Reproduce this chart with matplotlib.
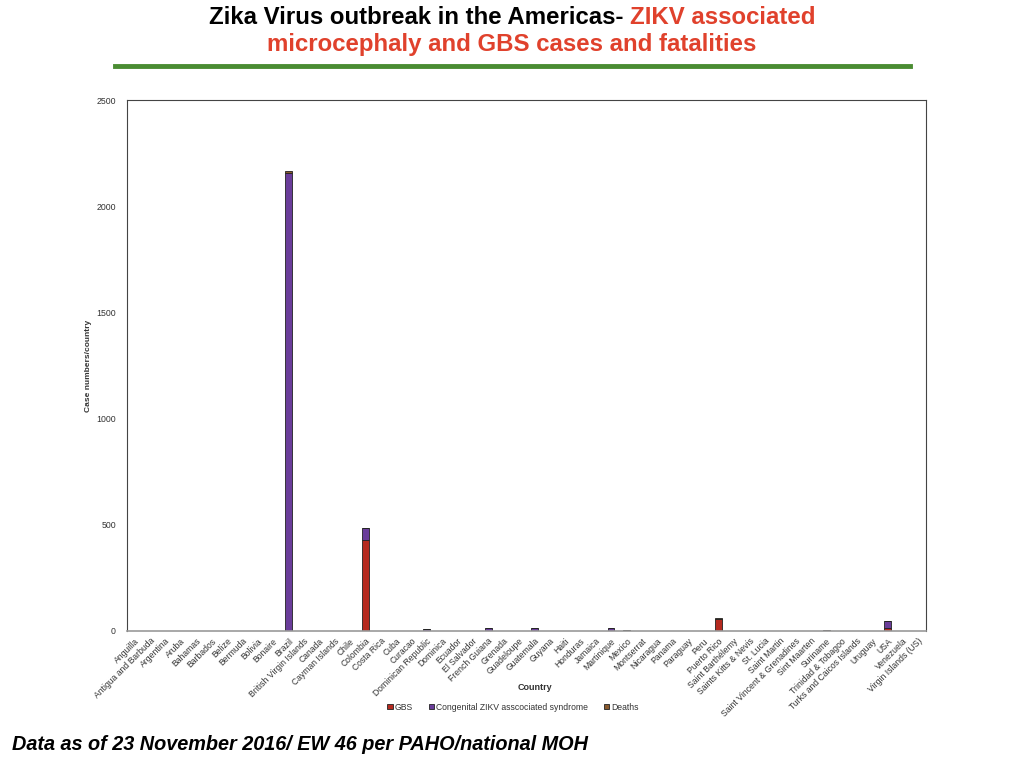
import matplotlib
matplotlib.use('Agg')
import matplotlib.pyplot as plt
import numpy as np

plt.rcParams['font.family'] = ['Liberation Sans', 'DejaVu Sans']

countries = ['Anguilla', 'Antigua and Barbuda', 'Argentina', 'Aruba', 'Bahamas', 'Barbados',
             'Belize', 'Bermuda', 'Bolivia', 'Bonaire', 'Brazil', 'British Virgin Islands',
             'Canada', 'Cayman Islands', 'Chile', 'Colombia', 'Costa Rica', 'Cuba', 'Curacao',
             'Dominican Republic', 'Dominica', 'Ecuador', 'El Salvador', 'French Guiana',
             'Grenada', 'Guadeloupe', 'Guatemala', 'Guyana', 'Haiti', 'Honduras', 'Jamaica',
             'Martinique', 'Mexico', 'Montserrat', 'Nicaragua', 'Panama', 'Paraguay', 'Peru',
             'Puerto Rico', 'Saint Barthélemy', 'Saints Kitts & Nevis', 'St. Lucia',
             'Saint Martin', 'Saint Vincent & Grenadines', 'Sint Maarten', 'Suriname',
             'Trinidad & Tobagoo', 'Turks and Caicos Islands', 'Uruguay', 'USA', 'Venezuela',
             'Virgin Islands (US)']

gbs = [0, 0, 0, 0, 0, 0, 0, 0, 0, 0, 0, 0,
       0, 0, 0, 428, 1, 0, 0,
       0, 0, 0, 1, 0,
       1, 1, 0, 0, 1, 1, 0,
       0, 1, 0, 0, 1, 1, 0,
       55, 0, 0, 0,
       0, 0, 1, 0,
       0, 0, 0, 12, 0,
       0]
czs = [0, 0, 2, 0, 0, 0, 0, 0, 2, 0, 2155, 0,
       1, 0, 0, 55, 1, 0, 0,
       10, 0, 0, 1, 13,
       1, 1, 15, 0, 1, 1, 0,
       14, 2, 0, 0, 1, 1, 0,
       3, 0, 0, 0,
       0, 0, 1, 2,
       0, 0, 0, 33, 0,
       0]
deaths = [0, 0, 0, 0, 0, 0, 0, 0, 0, 0, 10, 0,
          0, 0, 0, 3, 0, 0, 0,
          0, 0, 0, 0, 0,
          0, 0, 0, 0, 0, 0, 0,
          0, 0, 0, 0, 0, 0, 0,
          5, 0, 0, 0,
          0, 0, 0, 4,
          0, 0, 0, 2, 0,
          0]

red = '#b52a1f'
purple = '#6a3d9a'
brown = '#8a5a2e'

fig = plt.figure(figsize=(10.24, 7.68), dpi=100)
ax = fig.add_axes([127/1024, 1-631/768, (926-127)/1024, (631-100)/768])

x = np.arange(len(countries))
g = np.array(gbs)
c = np.array(czs)
d = np.array(deaths)
w = 0.45
ax.bar(x, g, w, color=red, edgecolor='#222222', linewidth=0.6, label='GBS')
ax.bar(x, c, w, bottom=g, color=purple, edgecolor='#222222', linewidth=0.6,
       label='Congenital ZIKV asscociated syndrome')
ax.bar(x, d, w, bottom=g + c, color=brown, edgecolor='#222222', linewidth=0.6, label='Deaths')

ax.set_xlim(-0.5, len(countries) - 0.5)
ax.set_ylim(0, 2500)
ax.set_yticks([0, 500, 1000, 1500, 2000, 2500])
ax.tick_params(axis='y', length=0, labelsize=6.3, labelcolor='#333333', pad=8)
ax.tick_params(axis='x', length=0, labelsize=6.2, labelcolor='#333333', pad=4)
ax.set_xticks(x)
ax.set_xticklabels(countries, rotation=45, ha='right', rotation_mode='anchor')
for s in ax.spines.values():
    s.set_color('#444444')
    s.set_linewidth(0.8)
ax.spines['bottom'].set_color('#999999')
ax.spines['bottom'].set_linewidth(1.2)

ax.set_ylabel('Case numbers/country', fontsize=6, color='#333333', fontweight='bold', labelpad=3)
fig.text(535/1024, 1-687/768, 'Country', fontsize=6.5, color='#333333', fontweight='bold',
         ha='center', va='center')

leg = fig.legend(loc='center', bbox_to_anchor=(513/1024, 1-707/768), ncol=3, frameon=False,
                 fontsize=6.2, handlelength=0.6, handleheight=0.6, handletextpad=0.2,
                 columnspacing=1.9)
for t in leg.get_texts():
    t.set_color('#333333')

# two-colour first title line, centred as a whole
t1 = fig.text(0, 1-17/768, 'Zika Virus outbreak in the Americas- ', fontsize=17.3,
              fontweight='bold', color='black', ha='left', va='center')
t2 = fig.text(0, 1-17/768, 'ZIKV associated', fontsize=17.3, fontweight='bold',
              color='#e0412c', ha='left', va='center')
fig.canvas.draw()
w1 = t1.get_window_extent().width
w2 = t2.get_window_extent().width
x0 = (1024 - (w1 + w2)) / 2
t1.set_x(x0 / 1024)
t2.set_x((x0 + w1) / 1024)
fig.text(512/1024, 1-45/768, 'microcephaly and GBS cases and fatalities', fontsize=17.3,
         fontweight='bold', color='#e0412c', ha='center', va='center')

fig.add_artist(plt.Line2D([115/1024, 910/1024], [1-66/768, 1-66/768], color='#4a8c32',
                          linewidth=3.5))

fig.text(12/1024, 1-745/768, 'Data as of 23 November 2016/ EW 46 per PAHO/national MOH',
         fontsize=14.3, fontweight='bold', fontstyle='italic', color='black',
         ha='left', va='center')

fig.savefig('out.png', dpi=100)
